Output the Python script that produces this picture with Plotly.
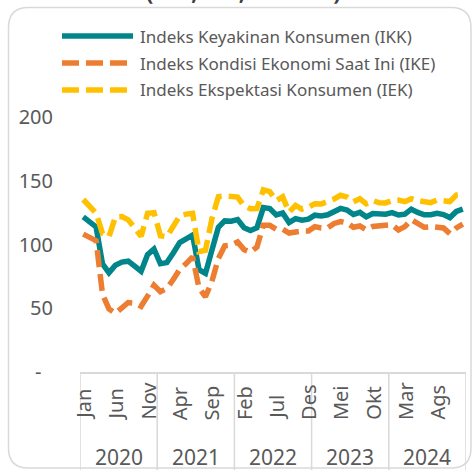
import plotly.graph_objects as go

# ---------------- data ----------------
years = ["2020", "2021", "2022", "2023", "2024"]
month_names = ["Jan", "Feb", "Mar", "Apr", "Mei", "Jun", "Jul", "Ags", "Sep", "Okt", "Nov", "Des"]
label_step = 5

series_names = ["Indeks Keyakinan Konsumen (IKK)",
                "Indeks Kondisi Ekonomi Saat Ini (IKE)",
                "Indeks Ekspektasi Konsumen (IEK)"]

ikk = [121.7, 117.7, 113.8, 84.8, 77.8, 83.8, 86.2, 86.9, 83.4, 79.0, 92.0, 96.5,
       84.9, 85.8, 93.4, 101.5, 104.4, 107.4, 80.2, 77.3, 95.5, 113.4, 118.5, 118.3,
       119.6, 113.1, 111.0, 113.1, 128.9, 128.2, 123.2, 124.7, 117.2, 120.3, 119.1, 119.9,
       123.0, 122.4, 123.3, 126.1, 128.3, 127.1, 123.5, 125.2, 121.7, 124.3, 123.6, 123.8,
       125.0, 123.1, 123.8, 127.7, 125.2, 123.3, 123.4, 124.4, 123.5, 121.1, 125.9, 127.7]

ike = [108.1, 105.0, 103.0, 61.0, 49.5, 46.0, 50.5, 54.5, 54.0, 51.5, 59.5, 68.0,
       63.0, 65.5, 72.5, 80.5, 85.0, 90.3, 66.0, 59.0, 71.0, 89.0, 99.0, 99.5,
       102.0, 96.0, 94.0, 98.0, 115.0, 115.0, 112.0, 112.0, 109.0, 110.0, 110.5, 110.5,
       114.0, 113.0, 113.0, 116.5, 118.0, 117.0, 113.5, 114.5, 111.5, 114.1, 114.5, 115.0,
       115.5, 111.4, 114.0, 119.5, 116.0, 113.5, 114.0, 114.0, 113.0, 108.5, 113.0, 116.0]

iek = [135.3, 130.4, 124.6, 108.6, 106.1, 121.6, 121.9, 119.3, 112.8, 106.5, 124.5, 125.0,
       106.8, 106.1, 114.3, 122.5, 123.8, 124.5, 94.4, 95.6, 120.0, 137.5, 138.0, 137.1,
       137.2, 130.2, 128.0, 128.2, 142.8, 141.4, 134.4, 137.4, 125.4, 130.6, 127.7, 129.3,
       132.0, 131.8, 133.6, 135.7, 138.6, 137.2, 133.5, 135.9, 131.9, 134.5, 132.7, 132.6,
       134.5, 134.8, 133.6, 135.9, 134.4, 133.1, 132.8, 134.8, 134.0, 133.7, 138.8, 139.4]

y_ticks = [0, 50, 100, 150, 200]
y_ticktext = ["-\u2007", "50", "100", "150", "200"]
title_text = "(IKK, IEK, dan IKE)"

# ---------------- styling ----------------
W, H = 472, 470
ML, MR, MT, MB = 80, 6, 117, 98
PW, PH = W - ML - MR, H - MT - MB
TEXT = "#595959"
GRID = "#D9D9D9"
FONT = "Noto Sans"
colors = ["#00868A", "#ED7D31", "#FFC000"]
dashes = ["solid", "17px,7px", "17px,7px"]
LW = 5.5


def px2x(px):  # page pixel -> paper
    return (px - ML) / PW


def py2y(py):
    return (H - MB - py) / PH


n = len(ikk)
xs = list(range(n))
values = [ikk, ike, iek]

fig = go.Figure()
for name, vals, col, dsh in zip(series_names, values, colors, dashes):
    fig.add_trace(go.Scatter(x=xs, y=vals, mode="lines", name=name,
                             line=dict(color=col, width=LW, dash=dsh),
                             showlegend=False, hoverinfo="skip"))

shapes = []
annotations = []

# rounded border
bl, bt, br, bb, rr = 8.5, 7.5, 471, 468, 20
pts = [("M", bl + rr, bt), ("L", br - rr, bt), ("Q", br, bt, br, bt + rr),
       ("L", br, bb - rr), ("Q", br, bb, br - rr, bb), ("L", bl + rr, bb),
       ("Q", bl, bb, bl, bb - rr), ("L", bl, bt + rr), ("Q", bl, bt, bl + rr, bt)]
path = ""
for p in pts:
    cmd = p[0]
    coords = p[1:]
    s = []
    for i in range(0, len(coords), 2):
        s.append(f"{px2x(coords[i]):.5f},{py2y(coords[i+1]):.5f}")
    path += cmd + " ".join(s) + " "
path += "Z"
shapes.append(dict(type="path", xref="paper", yref="paper", path=path,
                   line=dict(color=GRID, width=1.5), fillcolor="rgba(0,0,0,0)", layer="below"))

# year dividers (category boxes)
for k in range(len(years) + 1):
    xv = k * 12 - 0.5
    shapes.append(dict(type="line", xref="x", yref="paper", x0=xv, x1=xv,
                       y0=0, y1=py2y(472), line=dict(color=GRID, width=1.5)))

# year labels
for k, yr in enumerate(years):
    annotations.append(dict(x=k * 12 + 5.5, xref="x", y=py2y(457), yref="paper",
                            text=yr, showarrow=False, xanchor="center", yanchor="middle",
                            font=dict(size=21, color=TEXT, family=FONT)))

# month labels (every 5th month)
for i in range(0, n, label_step):
    annotations.append(dict(x=i, xref="x", y=py2y(422), yref="paper",
                            text=month_names[i % 12], showarrow=False, textangle=-90,
                            xanchor="center", yanchor="bottom",
                            font=dict(size=20, color=TEXT, family=FONT)))

# legend (manual, to match long line samples)
leg_y = [36, 63, 90]
for name, col, dsh, ly in zip(series_names, colors, dashes, leg_y):
    shapes.append(dict(type="line", xref="paper", yref="paper",
                       x0=px2x(62), x1=px2x(133), y0=py2y(ly), y1=py2y(ly),
                       line=dict(color=col, width=LW, dash=dsh)))
    annotations.append(dict(x=px2x(138), xref="paper", y=py2y(ly), yref="paper",
                            text=name, showarrow=False, xanchor="left", yanchor="middle",
                            font=dict(size=17, color=TEXT, family=FONT)))

# title (mostly cut off at top)
annotations.append(dict(x=px2x(243), xref="paper", y=py2y(-9), yref="paper",
                        text="<b>" + title_text + "</b>", showarrow=False,
                        xanchor="center", yanchor="middle",
                        font=dict(size=22, color="#404040", family=FONT)))

fig.update_layout(
    width=W, height=H,
    margin=dict(l=ML, r=MR, t=MT, b=MB, pad=0),
    paper_bgcolor="white", plot_bgcolor="white",
    font=dict(family=FONT, color=TEXT),
    shapes=shapes, annotations=annotations,
    xaxis=dict(range=[-0.5, n - 0.5], showgrid=False, zeroline=False,
               showticklabels=False, ticks="", showline=True,
               linecolor=GRID, linewidth=1.5),
    yaxis=dict(range=[0, 200], tickvals=y_ticks, ticktext=y_ticktext,
               showgrid=False, zeroline=False, showline=False,
               ticks="outside", ticklen=22, tickcolor="rgba(0,0,0,0)",
               tickfont=dict(size=20, color=TEXT, family=FONT)),
)

fig.write_html("out.html",
               config={"displayModeBar": False},
               post_script="document.body.style.margin='0';"
                           "document.body.style.overflow='hidden';")
